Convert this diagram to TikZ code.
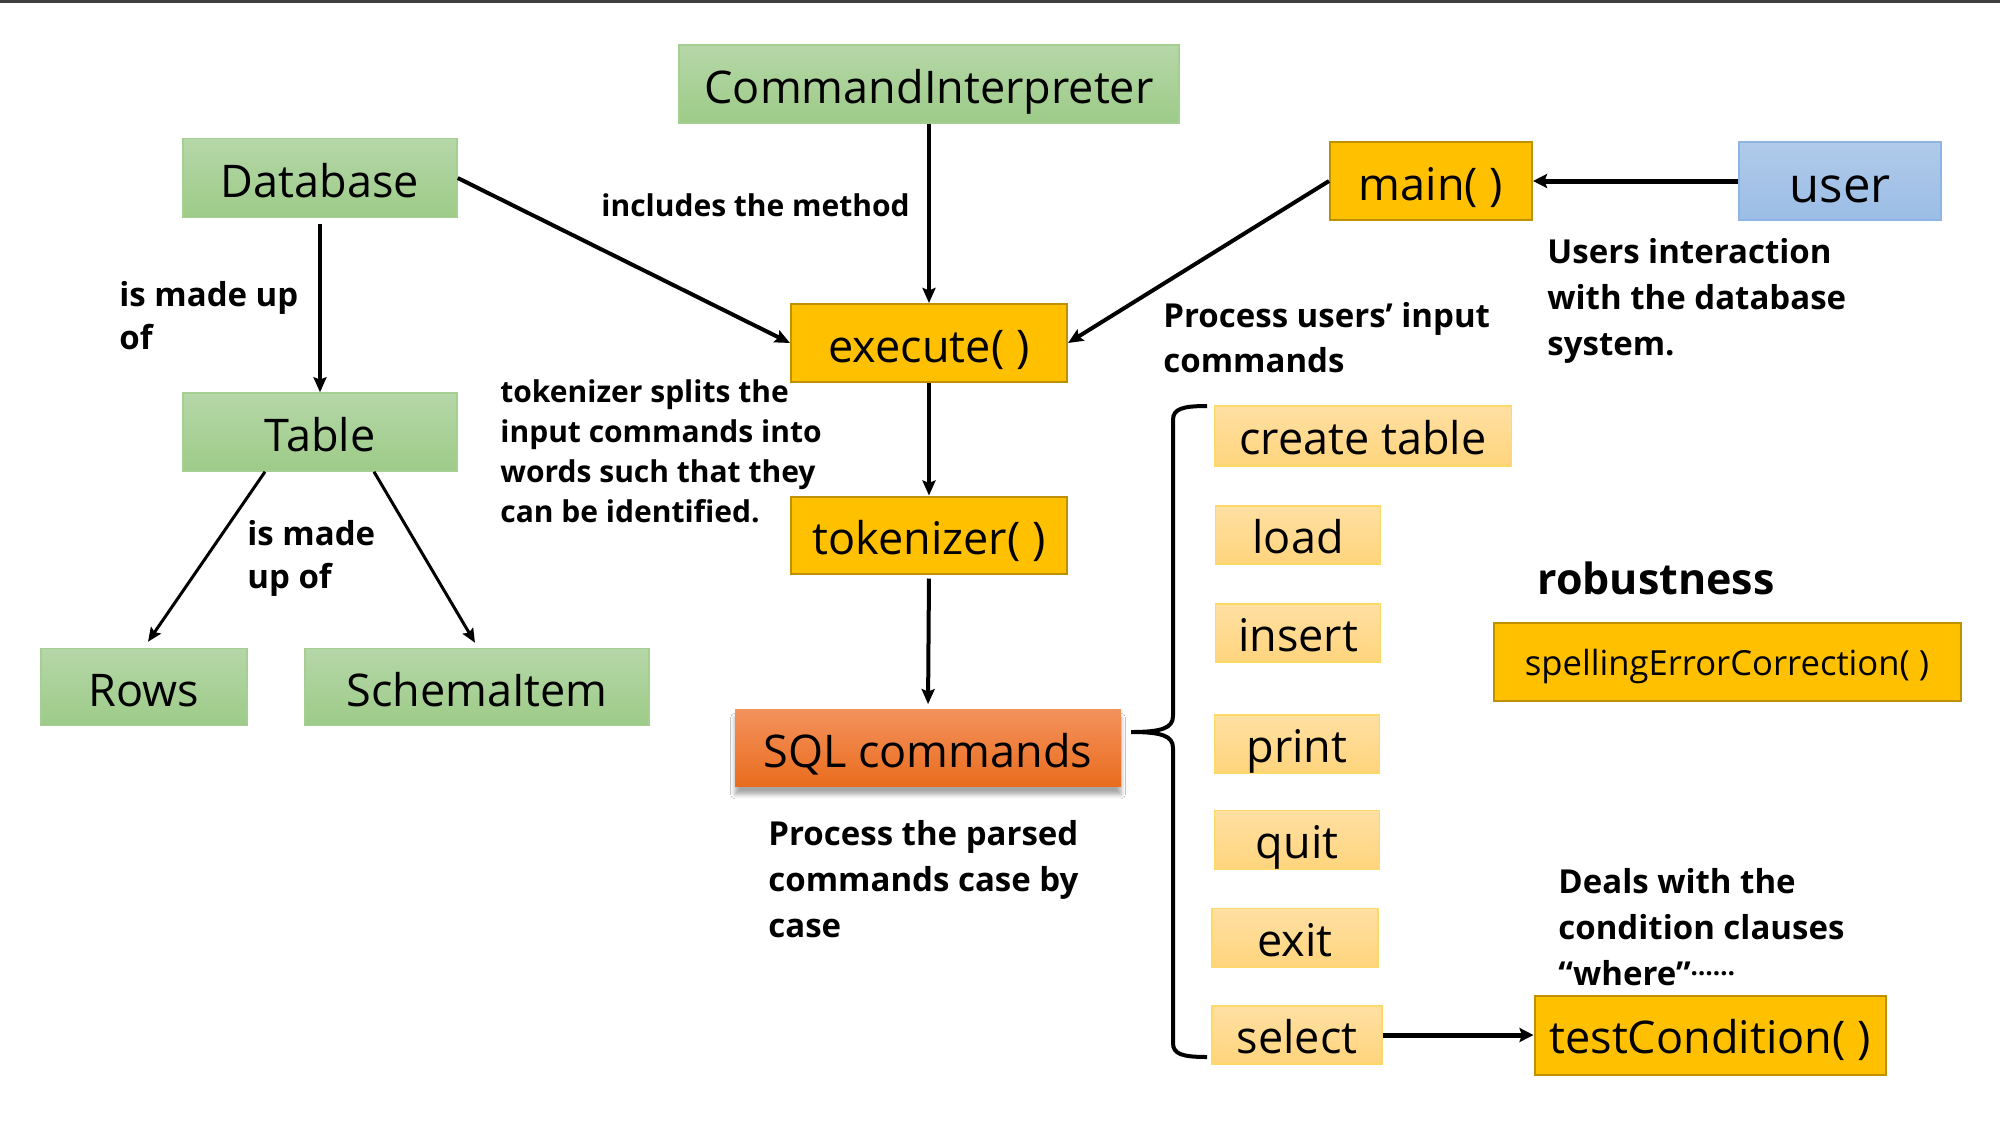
\documentclass[tikz,border=0pt]{standalone}
\usepackage{fontspec}
\setmainfont{Open Sans}
\usetikzlibrary{arrows.meta,shadows.blur}
\definecolor{grT}{HTML}{B6D7A8}
\definecolor{grB}{HTML}{9DCB88}
\definecolor{grD}{HTML}{A5CF92}
\definecolor{goldF}{HTML}{FFC000}
\definecolor{goldD}{HTML}{BF9000}
\definecolor{lgT}{HTML}{FFE0A3}
\definecolor{lgB}{HTML}{FFD47C}
\definecolor{lgD}{HTML}{FFD966}
\definecolor{orT}{HTML}{F4925C}
\definecolor{orB}{HTML}{E96C1E}
\definecolor{blT}{HTML}{B0CAEA}
\definecolor{blB}{HTML}{9BBDE5}
\definecolor{blD}{HTML}{8EB4E3}
\definecolor{topline}{HTML}{404040}
\begin{document}
\begin{tikzpicture}[x=0.5pt,y=-0.5pt,
  box/.style={rectangle, inner sep=0pt, font=\fontsize{22.5}{27}\selectfont, text=black, text height=21pt, text depth=2pt},
  greenbox/.style={box, top color=grT, bottom color=grB, draw=grD, line width=0.75pt},
  goldbox/.style={box, fill=goldF, draw=goldD, line width=1pt},
  lgoldbox/.style={box, top color=lgT, bottom color=lgB, draw=lgD, line width=0.75pt, font=\fontsize{22.5}{26}\selectfont, text height=20.5pt, text depth=2pt},
  lbl/.style={inner sep=0pt, align=left, anchor=west, font=\bfseries\fontsize{16.5}{23}\selectfont},
  arr/.style={-{Stealth[length=7.5pt,width=6.5pt,inset=1.2pt]}, line width=2pt},
  thinarr/.style={-{Stealth[length=7pt,width=6pt,inset=1.2pt]}, line width=1.5pt},
  thickarr/.style={-{Stealth[length=7pt,width=7pt,inset=1.2pt]}, line width=2.5pt}
]
\useasboundingbox (0,0) rectangle (2000,1125);
\fill[white] (0,0) rectangle (2000,1125);
\draw[line width=1.5pt, topline] (0,1.5) coordinate (tl) -- (2000,1.5) coordinate (tr);

% green boxes
\node[greenbox, minimum width=250pt, minimum height=39pt] (ci) at (929,84) {CommandInterpreter};
\node[greenbox, minimum width=137pt, minimum height=39.5pt] (db) at (320,178) {Database};
\node[greenbox, minimum width=137pt, minimum height=39pt] (tab) at (320,432) {Table};
\node[greenbox, minimum width=103pt, minimum height=38.5pt] (rows) at (144,687) {Rows};
\node[greenbox, minimum width=172pt, minimum height=38.5pt] (schema) at (477,687) {SchemaItem};

% gold boxes
\node[goldbox, minimum width=138pt, minimum height=39pt] (exec) at (929,343) {execute( )};
\node[goldbox, minimum width=138pt, minimum height=38.5pt] (tok) at (929,535) {tokenizer( )};
\node[goldbox, minimum width=101pt, minimum height=39pt] (main) at (1431,181) {main( )};
\node[goldbox, minimum width=175.5pt, minimum height=39.5pt, text height=20pt, text depth=2pt] (test) at (1710,1035) {testCondition( )};
\node[goldbox, minimum width=233.5pt, minimum height=39pt, font=\fontsize{17.3}{20}\selectfont, text height=15.5pt, text depth=2pt] (spell) at (1727,662) {spellingErrorCorrection( )};

% user
\node[box, top color=blT, bottom color=blB, draw=blD, line width=0.75pt, minimum width=101pt, minimum height=39pt, font=\fontsize{24.5}{29}\selectfont, text height=23pt, text depth=2pt] (user) at (1840,181) {user};

% SQL commands
\node[box, top color=orT, bottom color=orB, minimum width=193pt, minimum height=38.5pt,
  blur shadow={shadow xshift=0pt, shadow yshift=-4pt, shadow blur steps=6, shadow opacity=35}] (sql) at (928,748) {SQL commands};

% light gold option boxes
\node[lgoldbox, minimum width=148.5pt, minimum height=30pt] (create) at (1363,436) {create table};
\node[lgoldbox, minimum width=82.5pt, minimum height=29pt] (load) at (1298,535) {load};
\node[lgoldbox, minimum width=82.5pt, minimum height=29pt] (insert) at (1298,633) {insert};
\node[lgoldbox, minimum width=82.5pt, minimum height=29pt] (print) at (1297,744) {print};
\node[lgoldbox, minimum width=82.5pt, minimum height=29.5pt] (quit) at (1297,840) {quit};
\node[lgoldbox, minimum width=83pt, minimum height=29.5pt] (exit) at (1295,938) {exit};
\node[lgoldbox, minimum width=85pt, minimum height=29pt] (select) at (1297,1035) {select};

% labels
\node[lbl, font=\bfseries\fontsize{15}{22.5}\selectfont] (l1) at (601,205) {includes the method};
\node[lbl, font=\bfseries\fontsize{16.5}{21.5}\selectfont] (l2) at (119,316) {is made up\\of};
\node[lbl, font=\bfseries\fontsize{15}{20}\selectfont] (l3) at (500,451) {tokenizer splits the\\input commands into\\words such that they\\can be identified.};
\node[lbl, font=\bfseries\fontsize{16.5}{21.5}\selectfont] (l4) at (247,558) {is made\\up of};
\node[lbl, font=\bfseries\fontsize{16.5}{22.5}\selectfont] (l5) at (1163,338) {Process users’ input\\commands};
\node[lbl] (l6) at (1547,301) {Users interaction\\with the database\\system.};
\node[lbl] (l7) at (768,879) {Process the parsed\\commands case by\\case};
\node[lbl] (l8) at (1558,927) {Deals with the\\condition clauses\\“where”\raisebox{0.3em}{\fontsize{13}{15}\selectfont ……}};
\node[lbl, font=\bfseries\fontsize{21.5}{25}\selectfont] (rob) at (1537,578) {robustness};

% arrows
\draw[arr] (db.east) -- (exec.west);
\draw[arr] (ci.south) -- (exec.north);
\draw[arr, shorten <=3pt] (db.south) -- (tab.north);
\draw[arr] (exec.south) -- (tok.north);
\draw[arr, shorten <=2pt, shorten >=2.5pt] (tok.south) -- (sql.north);
\draw[thinarr] ([xshift=-27.5pt]tab.south) -- ([xshift=2pt,yshift=3pt]rows.north);
\draw[thinarr] ([xshift=27pt]tab.south) -- ([xshift=-1pt,yshift=2.5pt]schema.north);
\draw[arr] (main.west) -- (exec.east);
\draw[thickarr] (user.west) -- (main.east);
\draw[thickarr] (select.east) -- (test.west);

% brace
\draw[line width=2pt] (1207,406) .. controls (1182,406) and (1173,409) .. (1173,420)
  -- (1173,716) .. controls (1173,728) and (1162,732) .. (1131,732)
  .. controls (1162,732) and (1173,736) .. (1173,748)
  -- (1173,1043) .. controls (1173,1054) and (1182,1057) .. (1207,1057);
\end{tikzpicture}
\end{document}
